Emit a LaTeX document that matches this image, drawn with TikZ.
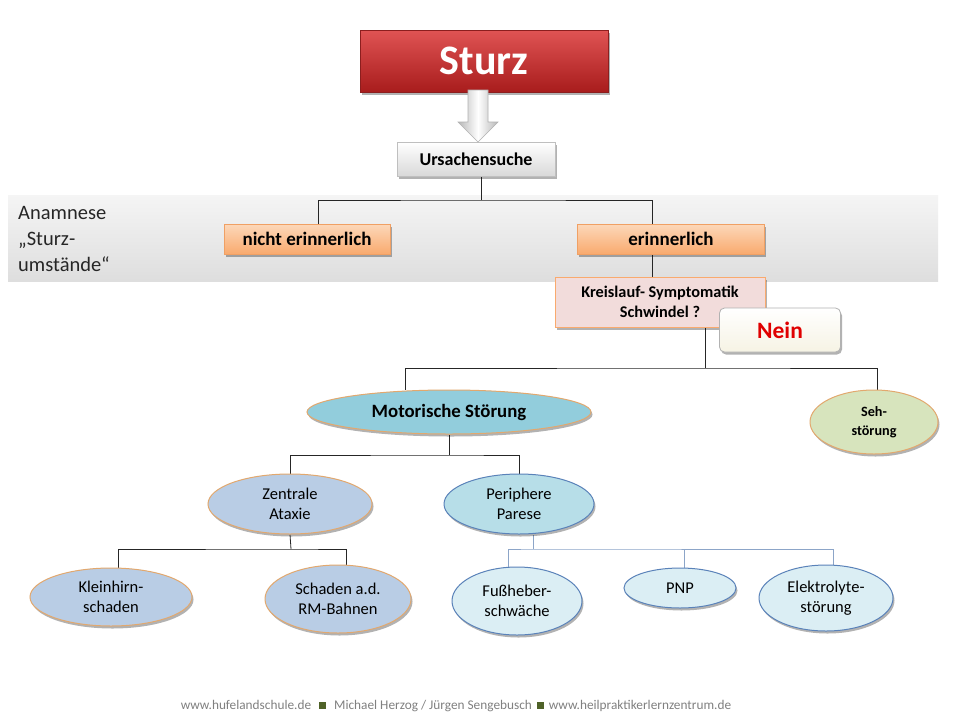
\documentclass[tikz,border=0pt]{standalone}
\usepackage{fontspec}
\setmainfont{Carlito}
\usetikzlibrary{shapes.geometric,shadows,backgrounds}
\definecolor{sturztop}{RGB}{224,84,84}
\definecolor{sturzbot}{RGB}{168,28,28}
\definecolor{sturzline}{RGB}{140,30,30}
\definecolor{orgtop}{RGB}{252,216,186}
\definecolor{orgbot}{RGB}{249,170,110}
\definecolor{orgline}{RGB}{240,160,100}
\definecolor{pinkfill}{RGB}{242,220,219}
\definecolor{ellorange}{RGB}{226,168,110}
\definecolor{motfill}{RGB}{146,205,220}
\definecolor{zenfill}{RGB}{185,205,229}
\definecolor{perfill}{RGB}{183,222,232}
\definecolor{lightfill}{RGB}{219,238,244}
\definecolor{bluel}{RGB}{90,130,185}
\definecolor{sehfill}{RGB}{215,228,189}
\definecolor{connblue}{RGB}{140,165,200}
\definecolor{neinred}{RGB}{224,0,0}
\definecolor{foottxt}{RGB}{128,128,128}
\definecolor{footgreen}{RGB}{79,98,40}
\tikzset{
  sh/.style={drop shadow={shadow xshift=1.5pt,shadow yshift=-2.5pt,opacity=0.3,fill=black}},
  boxnode/.style={rectangle,inner sep=0pt,align=center},
  orgbox/.style={boxnode,sh,top color=orgtop,bottom color=orgbot,draw=orgline,line width=0.6pt,
     font=\fontsize{19}{22}\selectfont\bfseries},
  ell/.style={ellipse,inner sep=0pt,align=center,line width=1pt,sh,
     font=\fontsize{16.5}{19.5}\selectfont},
  ellO/.style={ell,draw=ellorange},
  ellB/.style={ell,draw=bluel},
  conn/.style={draw=black!85,line width=0.8pt},
  connB/.style={draw=connblue,line width=0.9pt}
}
\begin{document}
\begin{tikzpicture}[x=1pt,y=-1pt]
\useasboundingbox (0,0) rectangle (960,720);
\begin{pgfonlayer}{background}
\fill[white] (0,0) rectangle (960,720);
\node[rectangle,inner sep=0pt,minimum width=930pt,minimum height=86pt,
  top color=black!4,bottom color=black!13] (band) at (473,238) {};
\end{pgfonlayer}

% title
\node[boxnode,sh,minimum width=248pt,minimum height=62pt,top color=sturztop,bottom color=sturzbot,
  draw=sturzline,line width=0.8pt,text=white,font=\fontsize{42}{46}\selectfont\bfseries] (sturz) at (484,61) {Sturz};
\node[boxnode,sh,minimum width=158pt,minimum height=34pt,top color=white,bottom color=black!15,
  draw=black!25,line width=0.6pt,font=\fontsize{18}{21}\selectfont\bfseries] (urs) at (476,159) {Ursachensuche};
\draw[draw=black!30,line width=0.6pt,shading=axis,left color=black!28,right color=black!28,middle color=white]
  (468,90) -- (488,90) -- (488,122) -- (498,122) -- (478,142) -- (458,122) -- (468,122) -- cycle;

% anamnese
\node[anchor=north west,inner sep=0pt,align=left,font=\fontsize{20.5}{26}\selectfont,text=black!85] (anam) at (18,206)
  {Anamnese\\„Sturz-\\umstände“};
\node[orgbox,minimum width=166pt,minimum height=30pt] (nicht) at (307,239) {nicht erinnerlich};
\node[orgbox,minimum width=187pt,minimum height=30pt] (erin) at (671,239) {erinnerlich};

\node[boxnode,sh,minimum width=210pt,minimum height=50pt,fill=pinkfill,draw=orgbot,line width=0.8pt,
  font=\fontsize{16.3}{19.5}\selectfont\bfseries] (kreis) at (660,302) {Kreislauf- Symptomatik\\Schwindel ?};
\node[boxnode,sh,rounded corners=5pt,minimum width=121pt,minimum height=44pt,top color=white,bottom color={rgb,255:red,246;green,243;blue,228},
  draw=black!30,line width=0.8pt,text=neinred,font=\fontsize{23.5}{26}\selectfont\bfseries] (nein) at (780,330) {Nein};

% ellipses
\node[ellO,fill=motfill,minimum width=284pt,minimum height=44pt,font=\fontsize{18.8}{22}\selectfont\bfseries] (mot) at (449,412) {Motorische Störung};
\node[ellO,fill=sehfill,minimum width=128pt,minimum height=64pt,font=\fontsize{14.2}{18.5}\selectfont\bfseries] (seh) at (874,422) {Seh-\\störung};
\node[ellO,fill=zenfill,minimum width=164pt,minimum height=60pt] (zen) at (290,504) {Zentrale\\Ataxie};
\node[ellB,fill=perfill,minimum width=150pt,minimum height=60pt] (per) at (519,504) {Periphere\\Parese};
\node[ellO,fill=zenfill,minimum width=162pt,minimum height=58pt] (klein) at (111,597) {Kleinhirn-\\schaden};
\node[ellO,fill=zenfill,minimum width=146pt,minimum height=68pt] (schad) at (338,599) {Schaden a.d.\\RM-Bahnen};
\node[ellB,fill=lightfill,minimum width=130pt,minimum height=68pt] (fuss) at (517,601) {Fußheber-\\schwäche};
\node[ellB,fill=lightfill,minimum width=112pt,minimum height=40pt] (pnp) at (680,588) {PNP};
\node[ellB,fill=lightfill,minimum width=134pt,minimum height=66pt] (elek) at (826,598) {Elektrolyte-\\störung};

% connectors
\coordinate (ja) at (481,200);
\coordinate (xa) at (318,0);
\coordinate (xb) at (652,0);
\coordinate (jc) at (705,368);
\coordinate (xd) at (405,0);
\coordinate (xe) at (877,0);
\coordinate (jm) at (449,455);
\coordinate (jz) at (291,549);
\coordinate (xk) at (118,0);
\coordinate (xs) at (346,0);
\coordinate (jp) at (533,549);
\coordinate (xf) at (508,0);
\coordinate (xp) at (684,0);
\coordinate (xl) at (833,0);
\begin{pgfonlayer}{background}
\draw[conn] (urs.south -| ja) -- (ja);
\draw[conn] (nicht.north -| xa) |- (ja) -| (erin.north -| xb);
\draw[conn] (erin.south -| xb) -- (kreis.north -| xb);
\draw[conn] (kreis.south -| jc) -- (jc);
\draw[conn] (mot.north -| xd) |- (jc) -| (seh.north -| xe);
\draw[conn] (mot.south) -- (jm);
\draw[conn] (zen.north) |- (jm) -| (per.north);
\draw[conn] (zen.south) -- (jz);
\draw[conn] (klein.north -| xk) |- (jz) -| (schad.north -| xs);
\draw[connB] (per.south -| jp) -- (jp);
\draw[connB] (fuss.north -| xf) |- (jp) -| (elek.north -| xl);
\draw[connB] (pnp.north -| xp) -- (xp |- jp);
\end{pgfonlayer}

% footer
\node[inner sep=0pt,text=foottxt,font=\fontsize{13.3}{15}\selectfont] (foot) at (456,706)
  {www.hufelandschule.de\hspace{8pt}{\color{footgreen}\rule{7pt}{7pt}}\hspace{8pt}Michael Herzog / Jürgen Sengebusch\hspace{5pt}{\color{footgreen}\rule{7pt}{7pt}}\hspace{5pt}www.heilpraktikerlernzentrum.de};
\end{tikzpicture}
\end{document}
